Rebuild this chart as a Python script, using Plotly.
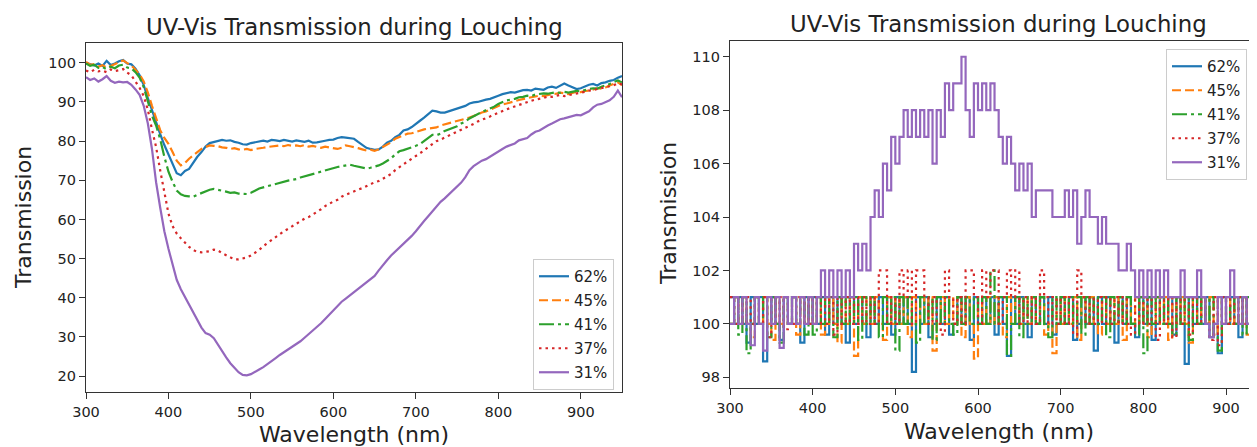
import plotly.graph_objects as go

# ---------------- data ----------------
wavelength = list(range(300, 955, 5))
labels = ["62%", "45%", "41%", "37%", "31%"]

# left panel: smoothed transmission
left_62 = [100.0, 99.6, 99.3, 99.8, 99.2, 100.5, 99.4, 99.8, 100.4, 100.7,
           99.8, 99.6, 98.5, 96.8, 94.3, 91.0, 87.8, 84.8, 81.8, 79.0,
           76.7, 74.3, 71.8, 71.3, 72.4, 72.9, 74.6, 76.0, 77.2, 78.6,
           79.5, 79.8, 80.1, 80.3, 80.1, 80.2, 79.8, 79.6, 79.2, 79.1,
           79.5, 79.7, 80.0, 80.1, 79.9, 80.3, 80.2, 80.0, 80.3, 80.1,
           79.9, 80.2, 80.0, 79.8, 80.1, 79.6, 79.7, 80.0, 80.1, 80.3,
           80.4, 80.8, 81.0, 80.9, 80.8, 80.6, 79.8, 79.0, 78.3, 78.0,
           77.8, 77.9, 78.6, 79.6, 80.1, 81.0, 81.6, 82.7, 83.0, 83.6,
           84.5, 85.2, 86.0, 86.8, 87.8, 87.6, 87.3, 87.3, 87.6, 88.0,
           88.2, 88.5, 89.0, 89.6, 89.9, 90.0, 90.4, 90.6, 90.8, 91.3,
           91.6, 92.0, 92.3, 92.5, 92.4, 92.8, 93.0, 93.1, 92.9, 93.4,
           93.3, 93.1, 93.7, 93.9, 93.6, 94.1, 94.7, 94.2, 93.8, 93.3,
           93.5, 94.0, 94.4, 94.6, 94.2, 94.8, 95.0, 95.4, 95.6, 96.2,
           96.6]
left_45 = [100.2, 99.5, 99.7, 99.0, 99.4, 98.8, 99.2, 99.6, 100.0, 100.6,
           99.9, 99.3, 98.2, 97.0, 95.2, 92.4, 89.0, 85.6, 82.8, 80.8,
           79.3, 77.2, 75.0, 73.8, 74.4, 75.5, 76.4, 77.3, 78.0, 78.5,
           78.9, 78.8, 78.7, 78.4, 78.3, 78.0, 78.2, 77.9, 77.8, 78.0,
           77.7, 78.0, 78.1, 78.3, 78.5, 78.6, 78.8, 78.9, 78.7, 79.0,
           78.8, 78.9, 78.7, 79.0, 78.6, 78.8, 78.5, 78.3, 78.6, 78.4,
           78.2, 78.0, 78.3, 78.9, 78.7, 78.5, 78.2, 77.9, 77.6, 77.8,
           77.5, 77.9, 78.5, 79.2, 79.7, 80.6, 81.1, 81.4, 81.9, 82.0,
           82.4, 82.7, 83.0, 83.2, 83.3, 83.5, 84.0, 84.3, 84.5, 84.8,
           85.0, 85.3, 85.6, 86.0, 86.4, 86.9, 87.3, 87.6, 88.0, 88.6,
           89.0, 89.4, 89.6, 90.0, 90.2, 90.5, 90.8, 90.9, 91.2, 91.4,
           91.6, 91.5, 91.8, 92.0, 92.1, 92.4, 92.2, 92.0, 92.3, 92.6,
           92.5, 92.8, 92.9, 93.2, 93.5, 93.4, 93.7, 94.2, 94.6, 95.0,
           94.3]
left_41 = [99.8, 99.2, 99.5, 98.7, 98.9, 98.4, 99.0, 98.6, 99.3, 99.5,
           98.8, 98.6, 97.6, 96.2, 93.8, 90.2, 86.5, 84.0, 80.5, 76.0,
           72.2, 69.6, 67.4, 66.4, 66.0, 65.9, 65.8, 66.3, 66.8, 67.2,
           67.6, 67.8, 67.6, 67.3, 67.1, 66.8, 66.9, 66.6, 66.5, 66.5,
           66.8, 67.4, 67.9, 68.2, 68.5, 68.8, 69.0, 69.4, 69.6, 69.9,
           70.1, 70.3, 70.7, 71.0, 71.2, 71.5, 71.8, 72.2, 72.6, 72.9,
           73.1, 73.4, 73.6, 73.8, 74.0, 73.7, 73.4, 73.2, 73.0, 73.2,
           73.5, 73.8, 74.3, 75.0, 75.6, 76.6, 77.4, 77.7, 78.0, 78.4,
           78.8, 79.2, 80.0, 80.8, 81.6, 81.5, 81.9, 82.6, 83.0, 83.3,
           83.8, 84.5, 85.0, 85.8, 86.4, 86.8, 87.4, 87.9, 88.3, 88.8,
           89.5, 90.0, 90.4, 90.6, 90.8, 91.2, 91.3, 91.6, 91.5, 91.9,
           92.0, 92.2, 92.1, 92.4, 92.5, 92.3, 92.6, 92.4, 92.6, 92.8,
           92.7, 93.1, 93.3, 93.5, 93.4, 93.9, 94.2, 94.6, 95.1, 95.5,
           95.0]
left_37 = [98.0, 97.6, 98.2, 97.8, 98.0, 97.6, 98.3, 97.9, 98.1, 98.4,
           97.5, 96.8, 95.2, 93.6, 91.5, 88.0, 83.0, 78.5, 72.5, 66.5,
           61.5, 58.3, 56.4, 55.2, 54.0, 53.0, 52.2, 51.7, 51.6, 51.8,
           51.9, 52.3, 52.1, 51.4, 50.8, 50.2, 49.8, 49.8, 50.0, 50.3,
           50.8, 51.5, 52.2, 53.2, 54.0, 54.8, 55.6, 56.4, 57.0, 57.6,
           58.3, 59.0, 59.6, 60.2, 60.6, 61.2, 61.8, 62.6, 63.4, 64.1,
           64.6, 65.0, 65.8, 66.3, 66.8, 67.2, 67.6, 68.0, 68.4, 69.0,
           69.5, 69.8, 70.4, 71.0, 71.6, 72.6, 73.4, 74.0, 74.8, 75.5,
           76.2, 76.8, 77.6, 78.5, 79.2, 80.0, 80.4, 80.9, 81.3, 81.7,
           82.3, 82.9, 83.4, 83.8, 84.4, 85.0, 85.4, 85.9, 86.3, 86.8,
           87.3, 87.8, 88.1, 88.5, 88.9, 89.3, 89.6, 90.0, 90.3, 90.6,
           90.8, 91.0, 91.4, 91.3, 91.6, 91.8, 91.5, 91.7, 91.9, 92.1,
           92.4, 92.6, 92.9, 93.0, 93.3, 93.5, 93.8, 94.0, 94.3, 94.7,
           94.5]
left_31 = [96.3, 95.6, 96.0, 95.2, 95.8, 96.6, 95.4, 94.9, 95.2, 95.0,
           95.1, 94.4, 93.2, 91.8, 89.0, 84.5, 78.0, 69.5, 63.0, 57.0,
           52.5, 48.4, 44.6, 42.2, 40.3, 38.4, 36.2, 34.3, 32.4, 31.0,
           30.6, 29.7, 28.0, 26.4, 24.8, 23.3, 22.0, 21.0, 20.3, 20.2,
           20.5, 21.0, 21.7, 22.3, 23.0, 23.8, 24.6, 25.4, 26.1, 26.8,
           27.3, 28.1, 28.9, 29.8, 30.7, 31.6, 32.5, 33.5, 34.6, 35.7,
           36.6, 37.8, 39.0, 39.8, 40.6, 41.4, 42.2, 43.1, 43.9, 44.6,
           45.6, 47.0, 48.4, 49.6, 50.8, 51.8, 52.6, 53.6, 54.6, 55.8,
           57.0, 58.4, 59.6, 60.8, 62.0, 63.4, 64.5, 65.4, 66.4, 67.2,
           68.2, 69.4, 70.8, 72.6, 73.6, 74.4, 75.0, 75.4, 76.1, 76.8,
           77.4, 78.0, 78.6, 79.0, 79.4, 80.2, 80.6, 80.8, 81.7, 82.4,
           82.7, 83.4, 84.0, 84.5, 85.0, 85.6, 85.8, 86.1, 86.3, 86.7,
           86.6, 87.2, 87.6, 88.6, 89.3, 89.5, 90.0, 90.4, 91.3, 92.9,
           91.2]

# right panel: raw (quantised) transmission
right_62 = [101, 100, 101, 100, 99.3, 101, 100, 101, 98.6, 100,
            101, 100, 99.4, 101, 100, 101, 100, 99.3, 101, 100,
            101, 100, 101, 99.6, 101, 100, 101, 100, 99.3, 101,
            100, 101, 100, 99.5, 101, 100, 101, 100, 101, 99.6,
            101, 100, 101, 100, 98.2, 101, 100, 101, 99.5, 100,
            101, 100, 101, 99.6, 100, 101, 100, 101, 99.4, 101,
            100, 101, 100, 101, 99.6, 101, 100, 98.8, 101, 100,
            101, 100, 99.5, 101, 100, 101, 100, 101, 99.6, 100,
            101, 100, 101, 99.4, 100, 101, 100, 101, 99.0, 101,
            100, 101, 100, 99.3, 101, 100, 101, 100, 99.5, 101,
            100, 101, 99.4, 100, 101, 100, 101, 99.6, 101, 100,
            98.5, 101, 100, 101, 100, 101, 99.5, 100, 98.9, 101,
            100, 101, 100, 99.5, 101, 100, 101, 100, 99.6, 101,
            100]
right_45 = [100, 101, 100, 101, 100, 99.5, 101, 100, 101, 100,
            99.4, 101, 100, 101, 100, 101, 99.6, 101, 100, 101,
            100, 101, 99.6, 100, 101, 100, 99.3, 101, 100, 101,
            98.8, 101, 100, 101, 100, 101, 100, 99.4, 101, 100,
            101, 100, 101, 99.5, 101, 100, 101, 100, 101, 99.0,
            100, 101, 100, 101, 100, 101, 99.5, 101, 100, 98.7,
            101, 100, 101, 100, 101, 100, 99.5, 101, 100, 101,
            100, 101, 100, 101, 100, 101, 99.6, 100, 98.9, 101,
            100, 101, 100, 101, 99.4, 101, 100, 101, 100, 99.6,
            101, 100, 101, 100, 101, 99.4, 101, 100, 101, 100,
            101, 99.5, 100, 101, 100, 101, 99.4, 101, 100, 101,
            100, 99.3, 101, 100, 101, 100, 101, 99.6, 101, 100,
            101, 100, 101, 100, 101, 99.6, 101, 100, 101, 100,
            101]
right_41 = [100, 101, 99.6, 101, 98.9, 100, 101, 100, 101, 99.5,
            101, 100, 99.3, 101, 100, 101, 100, 101, 99.6, 101,
            99.6, 101, 100, 101, 100, 99.5, 101, 100, 101, 100,
            101, 99.4, 101, 100, 101, 100, 99.5, 101, 100, 101,
            99.0, 101, 100, 101, 100, 99.3, 101, 100, 101, 99.4,
            101, 100, 101, 100, 99.6, 101, 100, 101, 100, 101,
            100, 101, 100, 102, 100, 101, 101, 98.8, 100, 101,
            99.5, 101, 100, 101, 100, 101, 100, 99.5, 101, 100,
            101, 100, 101, 100, 101, 99.6, 101, 100, 101, 100,
            101, 99.5, 101, 100, 101, 100, 101, 100, 99.6, 101,
            98.9, 101, 100, 101, 100, 101, 100, 99.6, 101, 100,
            101, 99.4, 101, 100, 101, 100, 101, 99.5, 99.0, 101,
            100, 101, 100, 101, 99.6, 101, 100, 101, 100, 101,
            100]
right_37 = [101, 100, 101, 100, 101, 100, 101, 100, 101, 99.5,
            101, 100, 101, 99.8, 101, 100, 101, 100, 101, 100,
            101, 100, 101, 100, 101, 99.6, 101, 100, 101, 100,
            101, 100, 101, 100, 101, 100, 102, 102, 100, 101,
            100, 102, 101, 102, 100, 102, 102, 101, 100, 101,
            100, 99.6, 102, 101, 100, 101, 100, 102, 102, 101,
            100, 102, 101, 102, 102, 100, 101, 102, 101, 102,
            100, 101, 100, 101, 100, 102, 101, 100, 101, 100,
            101, 100, 101, 99.6, 102, 101, 100, 101, 100, 101,
            100, 101, 100, 101, 100, 101, 100, 99.6, 101, 100,
            101, 100, 101, 99.4, 101, 100, 101, 99.5, 101, 100,
            101, 99.6, 101, 100, 101, 100, 99.4, 101, 99.2, 101,
            100, 101, 100, 101, 100, 101, 99.5, 101, 98.8, 101,
            100]
right_31 = [100, 101, 100, 101, 100, 99.2, 101, 100, 99.0, 101,
            100, 101, 99.1, 101, 100, 101, 100, 101, 100, 101,
            100, 101, 102, 101, 102, 101, 102, 101, 102, 101,
            103, 102, 103, 102, 104, 105, 104, 106, 105, 107,
            106, 107, 108, 107, 108, 107, 108, 107, 108, 106,
            108, 107, 109, 108, 109, 109, 110, 108, 107, 109,
            108, 109, 108, 109, 108, 107, 106, 107, 106, 105,
            106, 105, 106, 104, 105, 105, 105, 105, 104, 104,
            104, 105, 104, 105, 103, 104, 105, 104, 104, 103,
            104, 103, 103, 103, 102, 102, 103, 102, 101, 102,
            101, 102, 101, 102, 101, 102, 101, 101, 101, 102,
            101, 101, 101, 102, 101, 100, 99.5, 100, 101, 100,
            101, 102, 101, 100, 101, 100, 101, 100, 101, 100,
            101]

left_series = [left_62, left_45, left_41, left_37, left_31]
right_series = [right_62, right_45, right_41, right_37, right_31]

# ---------------- styling ----------------
colors = ["#1f77b4", "#ff7f0e", "#2ca02c", "#d62728", "#9467bd"]
dashes = ["solid", "9px,4px", "15px,4px,3px,4px", "2.5px,4px", "solid"]
PAGE_W, PAGE_H = 1257, 447
OFF = 8                      # default page margin around the figure
W, H = PAGE_W - OFF, PAGE_H - OFF
FONT = "DejaVu Sans"
INK = "#222222"

fig = go.Figure()
for lab, ys, c, d in zip(labels, left_series, colors, dashes):
    fig.add_trace(go.Scatter(x=wavelength, y=ys, mode="lines", name=lab,
                             line=dict(color=c, width=2.2, dash=d),
                             xaxis="x", yaxis="y", legend="legend",
                             legendgroup="L" + lab))
for lab, ys, c, d in zip(labels, right_series, colors, dashes):
    fig.add_trace(go.Scatter(x=wavelength, y=ys, mode="lines", name=lab,
                             line=dict(color=c, width=2.2, dash=d, shape="hv"),
                             xaxis="x2", yaxis="y2", legend="legend2",
                             legendgroup="R" + lab))

axis_common = dict(showgrid=False, zeroline=False, showline=True,
                   linecolor="#333333", linewidth=1.3, ticks="outside",
                   ticklen=6, tickwidth=1.2, tickcolor="#333333",
                   tickfont=dict(family=FONT, size=14.5, color=INK))


def px_x(p):
    return (p - OFF) / W


def px_y(p):
    return 1 - (p - OFF) / H


fig.update_layout(
    width=W, height=H,
    margin=dict(l=0, r=0, t=0, b=0, autoexpand=False),
    paper_bgcolor="white", plot_bgcolor="white",
    font=dict(family=FONT, color=INK),
    xaxis=dict(axis_common, domain=[px_x(86), px_x(622)], range=[300, 950],
               tickvals=[300, 400, 500, 600, 700, 800, 900], mirror=True,
               anchor="y"),
    yaxis=dict(axis_common, domain=[px_y(392), px_y(43)], range=[15.95, 105.05],
               tickvals=[20, 30, 40, 50, 60, 70, 80, 90, 100], mirror=True,
               anchor="x"),
    xaxis2=dict(axis_common, domain=[px_x(730), 1.0], range=[300, 937.5],
                tickvals=[300, 400, 500, 600, 700, 800, 900], mirror=True,
                anchor="y2"),
    yaxis2=dict(axis_common, domain=[px_y(388), px_y(40.7)], range=[97.6, 110.6],
                tickvals=[98, 100, 102, 104, 106, 108, 110], mirror=False,
                anchor="x2"),
    legend=dict(x=px_x(614), xanchor="right", y=px_y(259), yanchor="top",
                bgcolor="rgba(255,255,255,0.85)", bordercolor="#cccccc",
                borderwidth=1, font=dict(family=FONT, size=15, color=INK),
                tracegroupgap=1.5),
    legend2=dict(x=px_x(1166), xanchor="left", y=px_y(49), yanchor="top",
                 bgcolor="rgba(255,255,255,0.85)", bordercolor="#cccccc",
                 borderwidth=1, font=dict(family=FONT, size=15, color=INK),
                 tracegroupgap=1.5),
    showlegend=True,
)

title_text = "UV-Vis Transmission during Louching"
ann = [
    dict(text=title_text, x=px_x(354), y=px_y(27), size=22.8, angle=0),
    dict(text=title_text, x=px_x(998.5), y=px_y(24), size=22.8, angle=0),
    dict(text="Wavelength (nm)", x=px_x(354), y=px_y(434), size=22, angle=0),
    dict(text="Wavelength (nm)", x=px_x(998.5), y=px_y(431), size=22, angle=0),
    dict(text="Transmission", x=px_x(24), y=px_y(218), size=22, angle=-90),
    dict(text="Transmission", x=px_x(668), y=px_y(214), size=22, angle=-90),
]
for a in ann:
    fig.add_annotation(text=a["text"], x=a["x"], y=a["y"], xref="paper",
                       yref="paper", xanchor="center", yanchor="middle",
                       showarrow=False, textangle=a["angle"],
                       font=dict(family=FONT, size=a["size"], color=INK))

fig.write_html("out.html")
